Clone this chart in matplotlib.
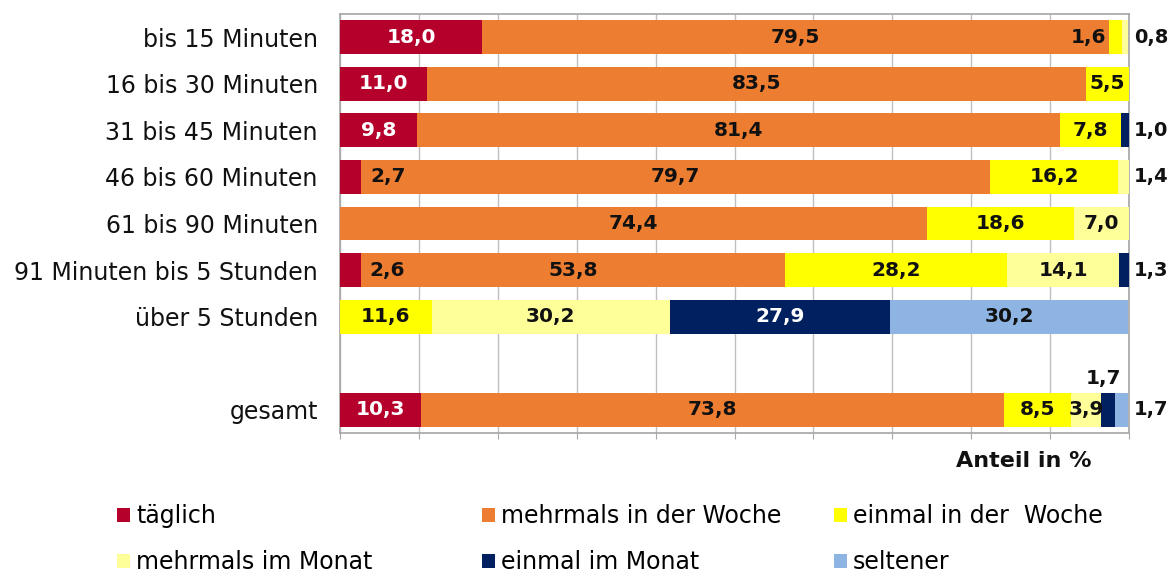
import matplotlib
matplotlib.use("Agg")
import matplotlib.pyplot as plt
from matplotlib.patches import Patch

plt.rcParams['font.family'] = ['DejaVu Sans']

categories = ["bis 15 Minuten", "16 bis 30 Minuten", "31 bis 45 Minuten",
              "46 bis 60 Minuten", "61 bis 90 Minuten", "91 Minuten bis 5 Stunden",
              "über 5 Stunden", "", "gesamt"]
series_names = ["täglich", "mehrmals in der Woche", "einmal in der  Woche",
                "mehrmals im Monat", "einmal im Monat", "seltener"]
taeglich      = [18.0, 11.0, 9.8, 2.7, 0.0, 2.6, 0.0, None, 10.3]
mehrm_woche   = [79.5, 83.5, 81.4, 79.7, 74.4, 53.8, 0.0, None, 73.8]
einmal_woche  = [1.6, 5.5, 7.8, 16.2, 18.6, 28.2, 11.6, None, 8.5]
mehrm_monat   = [0.8, 0.0, 0.0, 1.4, 7.0, 14.1, 30.2, None, 3.9]
einmal_monat  = [0.0, 0.0, 1.0, 0.0, 0.0, 1.3, 27.9, None, 1.7]
seltener      = [0.0, 0.0, 0.0, 0.0, 0.0, 0.0, 30.2, None, 1.7]
series = [taeglich, mehrm_woche, einmal_woche, mehrm_monat, einmal_monat, seltener]

colors = ["#B5002B", "#ED7D31", "#FFFF00", "#FFFF99", "#002060", "#8DB4E2"]
text_colors = ["white", "#111111", "#111111", "#111111", "white", "#111111"]
# label placement exceptions: (row, series) -> mode
special = {(0, 2): "before", (0, 3): "out", (2, 4): "out", (3, 0): "after",
           (3, 3): "out", (5, 0): "after", (5, 4): "out", (8, 4): "above",
           (8, 5): "out"}

fig = plt.figure(figsize=(11.72, 5.73), dpi=100)
ax = fig.add_axes([340/1172, 1-433/573, (1129-340)/1172, (433-14)/573])

for r in range(len(categories)):
    left = 0.0
    for s, vals in enumerate(series):
        v = vals[r]
        if v is None:
            continue
        if v > 0:
            ax.barh(r, v, left=left, height=0.73, color=colors[s], zorder=3, linewidth=0)
            txt = f"{v:.1f}".replace(".", ",")
            mode = special.get((r, s), "center")
            kw = dict(fontweight="bold", va="center", zorder=5, clip_on=False)
            if mode == "center":
                ax.text(left + v/2, r, txt, ha="center", color=text_colors[s],
                        fontsize=14.5, **kw)
            elif mode == "after":
                ax.text(left + v + 1.1, r, txt, ha="left", color="#111111",
                        fontsize=14.5, **kw)
            elif mode == "before":
                ax.text(left - 0.4, r, txt, ha="right", color="#111111",
                        fontsize=14.5, **kw)
            elif mode == "out":
                ax.text(100.6, r, txt, ha="left", color="#111111",
                        fontsize=14, **kw)
            elif mode == "above":
                ax.text(left + v/2 - 0.6, r - 0.68, txt, ha="center", color="#111111",
                        fontsize=14.5, **kw)
        left += v

ax.set_xlim(0, 100)
ax.set_ylim(len(categories) - 0.5, -0.5)
ax.set_yticks(range(len(categories)))
ax.set_yticklabels(categories, fontsize=17, color="#111111")
ax.tick_params(axis="y", length=0, pad=16)
ax.set_xticks(range(0, 101, 10))
ax.set_xticklabels([])
ax.tick_params(axis="x", length=4, color="#A6A6A6", direction="out")
ax.grid(axis="x", color="#BFBFBF", linewidth=1.0, zorder=0)
ax.set_axisbelow(True)
for sp in ax.spines.values():
    sp.set_color("#A6A6A6")
    sp.set_linewidth(1.2)

fig.text(1024/1172, 1-461/573, "Anteil in %", fontsize=16, fontweight="bold",
         ha="center", va="center", color="#111111")

handles = [Patch(facecolor=c, edgecolor="none") for c in colors]
col_x = [117, 482, 834]
for i in range(3):
    idx = [i, i + 3]
    fig.legend([handles[j] for j in idx], [series_names[j] for j in idx],
               loc="upper left", bbox_to_anchor=(col_x[i]/1172, 1-504/573),
               frameon=False, fontsize=17, handlelength=0.55, handleheight=0.55,
               handletextpad=0.25, labelspacing=0.95, borderpad=0, borderaxespad=0)

fig.savefig("out.png", dpi=100)
